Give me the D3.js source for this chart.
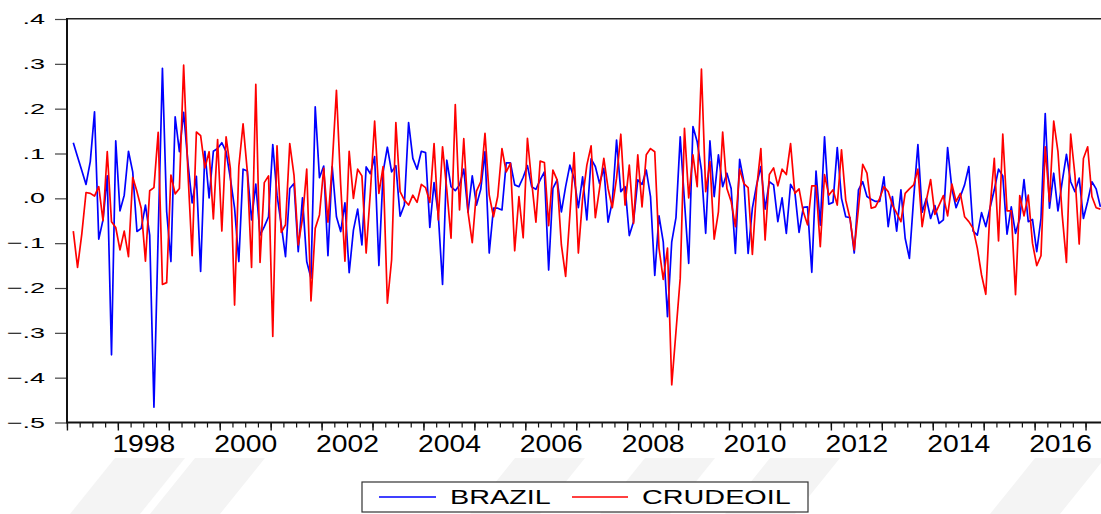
<!DOCTYPE html>
<html>
<head>
<meta charset="utf-8">
<script src="https://cdn.jsdelivr.net/npm/d3@7"></script>
<style>
  html, body { margin: 0; padding: 0; background: #fff; }
  svg { display: block; font-family: "Liberation Sans", Arial, sans-serif; }
</style>
</head>
<body>
<div id="chart"></div>
<script>
// monthly data, Feb 1997 .. Apr 2017 ------------------------------------------------------
const startYear = 1997;
const startMonth = 2;
const seriesNames = ['BRAZIL', 'CRUDEOIL'];
const seriesColors = ['#0000ff', '#ff0000'];
const brazil = [
  0.124, 0.093, 0.062, 0.031, 0.082, 0.193, -0.091, -0.048, 0.050, -0.349, 0.128,
  -0.028, 0.007, 0.105, 0.059, -0.074, -0.067, -0.015, -0.082, -0.466, -0.080, 0.290, -0.030,
  -0.141, 0.182, 0.104, 0.192, 0.080, -0.010, 0.049, -0.163, 0.105, 0.001, 0.105, 0.111,
  0.124, 0.104, 0.045, -0.022, -0.141, 0.065, 0.061, -0.048, 0.032, -0.082, -0.063, -0.041,
  0.120, 0.007, -0.059, -0.130, 0.022, 0.033, -0.119, 0.001, -0.141, -0.178, 0.204, 0.046,
  0.072, -0.128, 0.071, -0.041, -0.074, -0.010, -0.166, -0.071, -0.024, -0.104, 0.070, 0.055,
  0.093, -0.150, 0.059, 0.114, 0.059, 0.073, -0.040, -0.015, 0.169, 0.089, 0.065, 0.105,
  0.102, -0.065, 0.035, -0.037, -0.192, 0.085, 0.026, 0.017, 0.030, 0.065, -0.031, 0.050,
  -0.015, 0.020, 0.104, -0.122, -0.022, -0.022, -0.026, 0.079, 0.079, 0.030, 0.026, 0.047,
  0.073, 0.026, 0.020, 0.041, 0.059, -0.160, 0.022, 0.041, -0.030, 0.026, 0.074, 0.045,
  -0.021, 0.048, -0.048, 0.088, 0.071, 0.033, 0.067, -0.053, -0.007, 0.130, 0.015, 0.026,
  -0.083, -0.052, 0.041, 0.031, 0.063, 0.004, -0.172, -0.039, -0.097, -0.264, -0.097, -0.043,
  0.137, -0.007, -0.145, 0.160, 0.126, 0.063, -0.078, 0.128, 0.004, 0.097, 0.026, 0.056,
  0.022, -0.123, 0.087, 0.037, -0.123, -0.022, 0.030, 0.071, -0.024, 0.037, 0.030, -0.052,
  0.001, -0.078, 0.031, 0.015, -0.076, -0.020, -0.019, -0.165, 0.061, -0.060, 0.137, -0.013,
  -0.009, 0.113, 0.000, -0.041, -0.043, -0.122, 0.019, 0.037, 0.004, -0.002, -0.007, -0.007,
  0.048, -0.063, 0.004, -0.073, 0.019, -0.089, -0.134, 0.000, 0.120, -0.031, 0.000, -0.045,
  -0.016, -0.056, -0.048, 0.113, 0.022, -0.021, 0.004, 0.030, 0.071, -0.073, -0.082, -0.032,
  -0.063, -0.021, 0.019, 0.065, 0.050, -0.080, -0.019, -0.078, -0.045, 0.042, -0.052, -0.047,
  -0.119, -0.045, 0.189, -0.022, 0.056, -0.028, 0.037, 0.098, 0.037, 0.015, 0.045, -0.045,
  -0.007, 0.037, 0.021, -0.019
];
const crudeoil = [
  -0.073, -0.154, -0.080, 0.013, 0.011, 0.005, 0.026, -0.050, 0.104, -0.052, -0.065,
  -0.115, -0.073, -0.130, 0.047, 0.015, -0.022, -0.140, 0.017, 0.024, 0.147, -0.192, -0.188,
  0.052, 0.010, 0.022, 0.297, 0.060, -0.128, 0.148, 0.140, 0.068, 0.104, -0.046, 0.131,
  -0.073, 0.137, 0.067, -0.238, 0.071, 0.166, 0.060, -0.154, 0.254, -0.143, 0.035, 0.050,
  -0.308, 0.117, -0.076, -0.059, 0.122, 0.052, -0.104, -0.045, 0.065, -0.229, -0.067, -0.037,
  0.067, -0.053, 0.074, 0.241, 0.030, -0.140, 0.105, 0.000, 0.065, 0.050, -0.122, 0.015,
  0.172, 0.011, 0.071, -0.234, -0.137, 0.169, 0.015, -0.004, -0.015, 0.007, -0.009, 0.031,
  0.024, -0.009, 0.122, -0.048, 0.115, 0.019, -0.089, 0.209, -0.026, 0.133, -0.031, -0.099,
  0.016, 0.037, 0.145, 0.007, -0.041, 0.004, 0.111, 0.059, 0.078, -0.117, 0.004, -0.088,
  0.134, 0.037, -0.053, 0.083, 0.080, -0.061, 0.063, 0.041, -0.104, -0.174, -0.037, 0.102,
  -0.122, 0.000, 0.074, 0.117, -0.043, 0.022, 0.089, 0.022, -0.021, 0.045, 0.143, -0.015,
  0.074, -0.056, 0.097, -0.019, 0.097, 0.111, 0.104, -0.111, -0.181, -0.111, -0.416, -0.297,
  -0.178, 0.156, 0.001, 0.097, 0.026, 0.288, 0.015, 0.082, -0.091, -0.030, 0.148, 0.022,
  -0.007, -0.063, 0.065, 0.033, 0.024, -0.125, 0.022, 0.111, -0.093, 0.053, 0.068, 0.028,
  0.065, 0.053, 0.122, 0.011, 0.021, -0.030, -0.059, 0.028, 0.028, -0.108, 0.053, 0.007,
  0.019, -0.015, 0.108, -0.004, -0.045, -0.115, -0.022, 0.076, 0.056, -0.022, -0.019, 0.000,
  0.026, 0.015, -0.015, -0.033, -0.052, 0.011, 0.021, 0.030, 0.065, -0.063, -0.004, 0.042,
  -0.036, -0.015, 0.006, -0.039, 0.032, -0.007, 0.011, -0.041, -0.052, -0.067, -0.111, -0.171,
  -0.214, -0.022, 0.089, -0.095, 0.143, -0.028, -0.028, -0.215, 0.006, -0.039, 0.007, -0.100,
  -0.150, -0.128, 0.115, -0.007, 0.172, 0.104, -0.037, -0.143, 0.143, 0.052, -0.102, 0.089,
  0.115, 0.004, -0.021, -0.024
];
const yTicks = [-0.5, -0.4, -0.3, -0.2, -0.1, 0, 0.1, 0.2, 0.3, 0.4];
const yearLabels = [1998, 2000, 2002, 2004, 2006, 2008, 2010, 2012, 2014, 2016];

// size ----------------------------------------------------------------------------------
const width = 1101;
const height = 514;
const plot = {left: 67, top: 19, bottom: 422.5, right: 1101};

// time of each observation (middle of the month, in years)
const tOf = i => startYear + (startMonth - 1 + i) / 12 + 1 / 24;
const n = brazil.length;

const x = d3.scaleLinear()
  .domain([tOf(0), tOf(n - 1)])
  .range([73.3, 1100.4]);
const y = d3.scaleLinear()
  .domain([-0.5, 0.4])
  .range([plot.bottom, plot.top]);

const svg = d3.select('#chart').append('svg')
  .attr('width', width)
  .attr('height', height);

// faint watermark under the axis ----------------------------------------------------------
const marks = [70, 150, 470, 600, 725, 990];
svg.append('g')
  .selectAll('path')
  .data(marks)
  .enter()
  .append('path')
  .attr('d', d => `M${d + 45},458 L${d + 115},458 L${d + 70},514 L${d},514 Z`)
  .attr('fill', '#f4f4f4');

// x axis ticks ------------------------------------------------------------------------------
const quarters = d3.range(0, 81).map(j => startYear + j * 0.25).filter(t => x(t) >= plot.left - 0.5 && x(t) <= width);
const years = quarters.filter(t => Math.abs(t - Math.round(t)) < 1e-9);

const xq = svg.append('g')
  .attr('transform', `translate(0,${plot.bottom})`)
  .call(d3.axisBottom(x).tickValues(quarters).tickSize(5).tickFormat(''));
xq.select('.domain').remove();
xq.selectAll('line').attr('stroke', '#111').attr('stroke-width', 1.2);

const xy = svg.append('g')
  .attr('transform', `translate(0,${plot.bottom})`)
  .call(d3.axisBottom(x).tickValues(years).tickSize(8).tickFormat(''));
xy.select('.domain').remove();
xy.selectAll('line').attr('stroke', '#111').attr('stroke-width', 1.4);

const xl = svg.append('g')
  .attr('transform', `translate(0,${plot.bottom})`)
  .call(d3.axisBottom(x).tickValues(yearLabels.map(v => v + 0.5)).tickSize(0).tickFormat(d => String(Math.floor(d))));
xl.select('.domain').remove();
xl.selectAll('text')
  .attr('y', 0)
  .attr('dy', 0)
  .attr('font-size', 23)
  .attr('fill', '#000')
  .attr('transform', 'translate(0,29) scale(1.23,1)');

// y axis ----------------------------------------------------------------------------------
const fmt = v => d3.format('.1f')(v).replace('0.', '.');
const ya = svg.append('g')
  .attr('transform', `translate(${plot.left},0)`)
  .call(d3.axisLeft(y).tickValues(yTicks).tickSize(12).tickFormat(fmt));
ya.select('.domain').remove();
ya.selectAll('line').attr('stroke', '#444').attr('stroke-width', 1.2);
ya.selectAll('text')
  .attr('x', 0)
  .attr('dy', 0)
  .attr('font-size', 15)
  .attr('fill', '#000')
  .attr('transform', 'translate(-22,4.5) scale(1.8,1)');

// frame -------------------------------------------------------------------------------------
svg.append('line')
  .attr('x1', plot.left).attr('x2', width)
  .attr('y1', plot.top - 0.3).attr('y2', plot.top - 0.3)
  .attr('stroke', '#222').attr('stroke-width', 1.6);
svg.append('line')
  .attr('x1', plot.left).attr('x2', width)
  .attr('y1', plot.bottom).attr('y2', plot.bottom)
  .attr('stroke', '#111').attr('stroke-width', 2);
svg.append('line')
  .attr('x1', plot.left).attr('x2', plot.left)
  .attr('y1', plot.top - 1).attr('y2', plot.bottom + 1)
  .attr('stroke', '#111').attr('stroke-width', 2);

// lines -------------------------------------------------------------------------------------
svg.append('clipPath').attr('id', 'clip')
  .append('rect')
  .attr('x', plot.left + 1).attr('y', plot.top)
  .attr('width', width - plot.left).attr('height', plot.bottom - plot.top);

const line = d3.line()
  .x((d, i) => x(tOf(i)))
  .y(d => y(d));

svg.append('g')
  .attr('clip-path', 'url(#clip)')
  .selectAll('path')
  .data([brazil, crudeoil])
  .enter()
  .append('path')
  .attr('d', line)
  .attr('fill', 'none')
  .attr('stroke', (d, i) => seriesColors[i])
  .attr('stroke-width', 1.7)
  .attr('stroke-linejoin', 'round');

// legend ------------------------------------------------------------------------------------
const legend = svg.append('g');
legend.append('rect')
  .attr('x', 362).attr('y', 482)
  .attr('width', 446).attr('height', 30)
  .attr('fill', '#fff')
  .attr('stroke', '#333')
  .attr('stroke-width', 1.2);
const items = legend.selectAll('.item')
  .data(seriesNames)
  .enter()
  .append('g')
  .attr('class', 'item')
  .attr('transform', (d, i) => `translate(${i === 0 ? 379 : 572},497)`);
items.append('line')
  .attr('x1', 0).attr('x2', (d, i) => i === 0 ? 57 : 56)
  .attr('stroke', (d, i) => seriesColors[i])
  .attr('stroke-width', 1.3);
items.append('text')
  .text(d => d)
  .attr('font-size', 20)
  .attr('fill', '#000')
  .attr('transform', (d, i) => `translate(${i === 0 ? 71 : 70},6.5) scale(1.44,1)`);
</script>
</body>
</html>
